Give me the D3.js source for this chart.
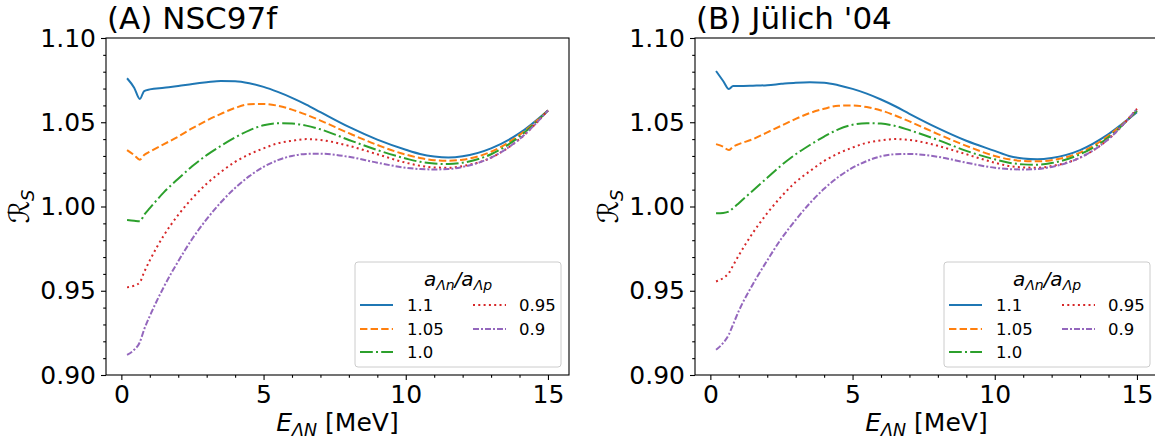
<!DOCTYPE html>
<html>
<head>
<meta charset="utf-8">
<script src="https://cdn.jsdelivr.net/npm/d3@7"></script>
<style>
  body { margin: 0; background: #fff; }
  svg text { font-family: "DejaVu Sans", sans-serif; fill: #000; }
</style>
</head>
<body>
<svg id="chart" width="1155" height="448"></svg>
<script>
// energies E_{Lambda N} in MeV (shared grid for all curves)
const energies = [0.2, 0.45, 0.65, 0.8, 1, 1.5, 2, 2.5, 3, 3.5, 4, 4.5, 5, 5.5, 6, 6.5, 7, 8, 9, 10, 10.5, 11, 11.5, 12, 13, 14, 15];

const ratioLabels = ["1.1", "1.05", "1.0", "0.95", "0.9"];

// (A) NSC97f
const nscRatio110 = [1.0761, 1.0705, 1.0638, 1.0685, 1.0695, 1.0705, 1.0715, 1.0727, 1.0737, 1.0745, 1.0744, 1.0732, 1.0710, 1.0680, 1.0645, 1.0605, 1.0560, 1.0472, 1.0397, 1.0337, 1.0312, 1.0297, 1.0291, 1.0298, 1.0345, 1.0435, 1.0570];
const nscRatio105 = [1.0335, 1.0305, 1.0278, 1.0305, 1.0325, 1.0370, 1.0415, 1.0465, 1.0510, 1.0550, 1.0585, 1.0607, 1.0608, 1.0598, 1.0575, 1.0545, 1.0510, 1.0435, 1.0365, 1.0308, 1.0288, 1.0275, 1.0272, 1.0278, 1.0325, 1.0425, 1.0570];
const nscRatio100 = [0.9920, 0.9915, 0.9912, 0.9950, 0.9990, 1.0085, 1.0165, 1.0240, 1.0305, 1.0360, 1.0410, 1.0452, 1.0482, 1.0494, 1.0492, 1.0480, 1.0458, 1.0395, 1.0335, 1.0285, 1.0265, 1.0255, 1.0252, 1.0260, 1.0310, 1.0415, 1.0570];
const nscRatio095 = [0.9520, 0.9530, 0.9550, 0.9610, 0.9680, 0.9830, 0.9950, 1.0050, 1.0135, 1.0205, 1.0265, 1.0310, 1.0345, 1.0375, 1.0390, 1.0400, 1.0395, 1.0360, 1.0310, 1.0260, 1.0242, 1.0232, 1.0230, 1.0240, 1.0290, 1.0400, 1.0570];
const nscRatio090 = [0.9120, 0.9150, 0.9195, 0.9270, 0.9350, 0.9525, 0.9675, 0.9810, 0.9925, 1.0025, 1.0110, 1.0180, 1.0235, 1.0275, 1.0300, 1.0312, 1.0313, 1.0295, 1.0260, 1.0230, 1.0222, 1.0220, 1.0222, 1.0235, 1.0290, 1.0400, 1.0570];

// (B) Juelich '04
const julRatio110 = [1.0804, 1.0745, 1.0697, 1.0715, 1.0715, 1.0717, 1.0720, 1.0728, 1.0735, 1.0738, 1.0735, 1.0720, 1.0698, 1.0670, 1.0635, 1.0595, 1.0550, 1.0465, 1.0390, 1.0330, 1.0300, 1.0285, 1.0280, 1.0288, 1.0335, 1.0430, 1.0560];
const julRatio105 = [1.0370, 1.0355, 1.0335, 1.0355, 1.0370, 1.0400, 1.0440, 1.0480, 1.0520, 1.0555, 1.0580, 1.0598, 1.0600, 1.0590, 1.0570, 1.0540, 1.0505, 1.0430, 1.0360, 1.0300, 1.0280, 1.0270, 1.0268, 1.0275, 1.0320, 1.0420, 1.0570];
const julRatio100 = [0.9960, 0.9962, 0.9970, 0.9990, 1.0020, 1.0095, 1.0170, 1.0245, 1.0310, 1.0365, 1.0415, 1.0458, 1.0485, 1.0494, 1.0492, 1.0478, 1.0453, 1.0395, 1.0330, 1.0280, 1.0260, 1.0250, 1.0248, 1.0258, 1.0310, 1.0410, 1.0570];
const julRatio095 = [0.9555, 0.9575, 0.9605, 0.9650, 0.9710, 0.9845, 0.9960, 1.0060, 1.0145, 1.0210, 1.0270, 1.0315, 1.0350, 1.0378, 1.0392, 1.0400, 1.0395, 1.0360, 1.0310, 1.0260, 1.0240, 1.0232, 1.0230, 1.0240, 1.0290, 1.0400, 1.0580];
const julRatio090 = [0.9150, 0.9190, 0.9240, 0.9300, 0.9380, 0.9540, 0.9680, 0.9810, 0.9920, 1.0020, 1.0105, 1.0175, 1.0230, 1.0270, 1.0298, 1.0310, 1.0312, 1.0295, 1.0260, 1.0230, 1.0222, 1.0220, 1.0223, 1.0235, 1.0290, 1.0400, 1.0580];

const xTicks = [0, 5, 10, 15];
const yTicks = [0.90, 0.95, 1.00, 1.05, 1.10];

const lineColors = ["#1f77b4", "#ff7f0e", "#2ca02c", "#d62728", "#9467bd"];
const lineDashes = [null, "7.4,3.2", "12.8,3.2,2,3.2", "2,3.3", "6,2,2,2"];

const panelTop = 38;
const panelBottom = 375;
const panelWidth = 463;

const svg = d3.select("#chart");

function drawPanel(left, title, seriesList) {
  const x = d3.scaleLinear().domain([-0.54, 15.74]).range([left, left + panelWidth]);
  const y = d3.scaleLinear().domain([0.9, 1.1]).range([panelBottom, panelTop]);
  const g = svg.append("g");

  const line = d3.line()
    .x((d) => x(d[0]))
    .y((d) => y(d[1]))
    .curve(d3.curveMonotoneX);

  seriesList.forEach((vals, i) => {
    g.append("path")
      .datum(energies.map((e, k) => [e, vals[k]]))
      .attr("d", line)
      .attr("fill", "none")
      .attr("stroke", lineColors[i])
      .attr("stroke-width", 2)
      .attr("stroke-dasharray", lineDashes[i]);
  });

  // axes
  const xAxis = g.append("g")
    .attr("transform", `translate(0,${panelBottom})`)
    .call(d3.axisBottom(x).tickValues(xTicks).tickFormat(d3.format("d")).tickSize(5).tickPadding(5));
  g.append("g")
    .attr("transform", `translate(0,${panelBottom})`)
    .call(d3.axisBottom(x).tickValues(d3.range(0, 16).filter((v) => v % 5 !== 0)).tickFormat("").tickSize(2.8))
    .call((a) => a.select(".domain").remove());

  g.append("g")
    .attr("transform", `translate(${left},0)`)
    .call(d3.axisLeft(y).tickValues(yTicks).tickFormat(d3.format(".2f")).tickSize(5).tickPadding(5));
  g.append("g")
    .attr("transform", `translate(${left},0)`)
    .call(d3.axisLeft(y).tickValues(d3.range(91, 110).filter((v) => v % 5 !== 0).map((v) => v / 100)).tickFormat("").tickSize(2.8))
    .call((a) => a.select(".domain").remove());

  g.selectAll(".tick text").attr("font-size", 25).attr("font-family", "DejaVu Sans");
  xAxis.selectAll(".tick text").attr("dy", "0.72em");
  g.selectAll(".tick line").attr("stroke", "#000").attr("stroke-width", 1.1);
  g.selectAll(".domain").remove();

  // frame
  g.append("rect")
    .attr("x", left)
    .attr("y", panelTop)
    .attr("width", panelWidth)
    .attr("height", panelBottom - panelTop)
    .attr("fill", "none")
    .attr("stroke", "#000")
    .attr("stroke-width", 1.1);

  // title
  g.append("text")
    .attr("x", left + 1)
    .attr("y", 29)
    .attr("font-size", 31)
    .text(title);

  // x label
  const xl = g.append("text")
    .attr("x", left + panelWidth / 2)
    .attr("y", 431)
    .attr("text-anchor", "middle")
    .attr("font-size", 25);
  xl.append("tspan").attr("font-style", "italic").text("E");
  xl.append("tspan").attr("font-style", "italic").attr("font-size", 17.5).attr("dy", 5).text("ΛN");
  xl.append("tspan").attr("dy", -5).text(" [MeV]");

  // y label
  const yl = g.append("text")
    .attr("transform", `translate(${left - 77},${(panelTop + panelBottom) / 2}) rotate(-90)`)
    .attr("text-anchor", "middle")
    .attr("font-size", 28);
  yl.append("tspan").attr("font-style", "italic").text("ℛ");
  yl.append("tspan").attr("font-style", "italic").attr("font-size", 18).attr("dy", 5).text("S");

  // legend
  const lgW = 206, lgH = 105;
  const lgX = left + panelWidth - 8 - lgW;
  const lgY = panelBottom - 8 - lgH;
  const lg = g.append("g").attr("transform", `translate(${lgX},${lgY})`);
  lg.append("rect")
    .attr("width", lgW)
    .attr("height", lgH)
    .attr("rx", 3)
    .attr("fill", "#fff")
    .attr("fill-opacity", 0.8)
    .attr("stroke", "#cccccc")
    .attr("stroke-width", 1);

  const lt = lg.append("text")
    .attr("x", lgW / 2)
    .attr("y", 24)
    .attr("text-anchor", "middle")
    .attr("font-size", 20)
    .attr("font-style", "italic");
  lt.append("tspan").text("a");
  lt.append("tspan").attr("font-size", 14).attr("dy", 4).text("Λn");
  lt.append("tspan").attr("dy", -4).text("/a");
  lt.append("tspan").attr("font-size", 14).attr("dy", 4).text("Λp");

  const rowY = [43, 67, 90];
  ratioLabels.forEach((lab, i) => {
    const col = i < 3 ? 0 : 1;
    const row = i < 3 ? i : i - 3;
    const hx = col === 0 ? 5 : 118;
    const tx = col === 0 ? 52 : 164;
    lg.append("line")
      .attr("x1", hx)
      .attr("x2", hx + 33)
      .attr("y1", rowY[row])
      .attr("y2", rowY[row])
      .attr("stroke", lineColors[i])
      .attr("stroke-width", 2)
      .attr("stroke-dasharray", lineDashes[i]);
    lg.append("text")
      .attr("x", tx)
      .attr("y", rowY[row] + 6)
      .attr("font-size", 16.5)
      .text(lab);
  });
}

drawPanel(106, "(A) NSC97f", [nscRatio110, nscRatio105, nscRatio100, nscRatio095, nscRatio090]);
drawPanel(695, "(B) Jülich '04", [julRatio110, julRatio105, julRatio100, julRatio095, julRatio090]);
</script>
</body>
</html>
